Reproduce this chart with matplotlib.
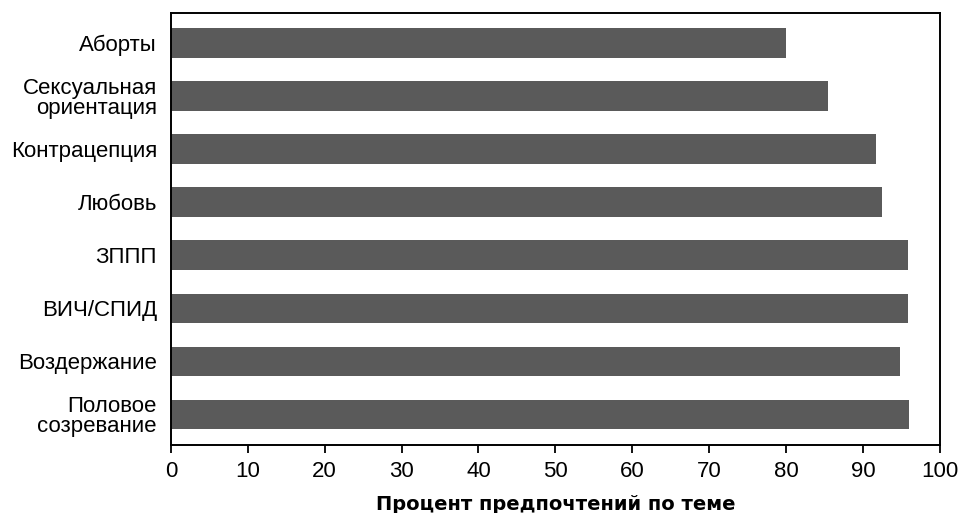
import matplotlib.pyplot as plt
import numpy as np

plt.rcParams['font.family'] = ['Liberation Sans', 'DejaVu Sans']

topics = ['Аборты', 'Сексуальная\nориентация', 'Контрацепция', 'Любовь',
          'ЗППП', 'ВИЧ/СПИД', 'Воздержание', 'Половое\nсозревание']
percent = [80.0, 85.5, 91.7, 92.5, 95.9, 95.9, 94.8, 96.0]
xticks = list(range(0, 101, 10))

fig = plt.figure(figsize=(9.6, 5.13), dpi=100)
ax = fig.add_axes([0.178, 0.133, 0.801, 0.842])

y = np.arange(len(topics))
ax.barh(y, percent, height=0.56, color='#5a5a5a', edgecolor='none')

ax.set_ylim(len(topics) - 0.43, -0.57)
ax.set_xlim(0, 100)
ax.set_yticks(y)
ax.set_yticklabels(topics, fontsize=16, linespacing=0.95)
ax.tick_params(axis='y', length=0, pad=10)
ax.set_xticks(xticks)
ax.tick_params(axis='x', labelsize=16, length=6, width=1.3, direction='out', pad=6)
for s in ax.spines.values():
    s.set_linewidth(1.4)

ax.set_xlabel('Процент предпочтений по теме', fontsize=14, fontweight='bold',
              family='DejaVu Sans', labelpad=9)

plt.savefig('out.png', dpi=100)
